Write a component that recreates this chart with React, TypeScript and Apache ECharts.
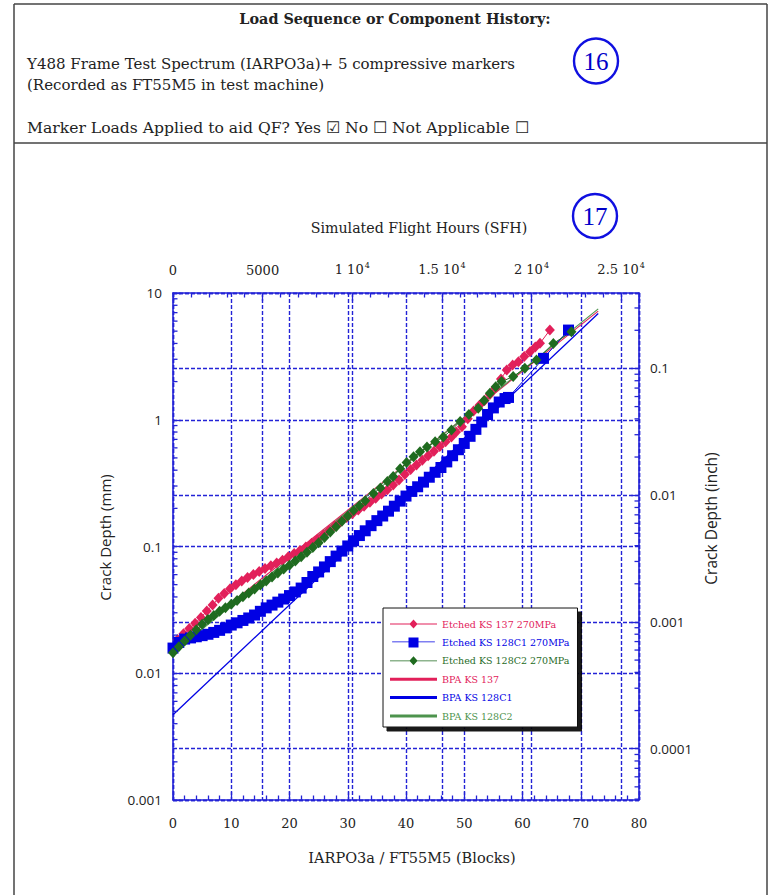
import React, { useEffect, useRef } from 'react';
import * as echarts from 'echarts';

// ---- crack growth data: [blocks of IARPO3a / FT55M5, crack depth (mm)] ----
const etchedKS137: [number, number][] = [
  [0.8, 0.0185], [1.8, 0.0205], [2.8, 0.0225], [3.8, 0.0248], [4.8, 0.0275], [5.8, 0.031],
  [6.8, 0.0345], [7.8, 0.039], [8.8, 0.0425], [9.8, 0.0465], [10.8, 0.05], [11.8, 0.0535],
  [12.8, 0.057], [13.8, 0.06], [14.8, 0.0635], [15.8, 0.067], [16.8, 0.0705], [17.8, 0.074],
  [18.8, 0.078], [19.8, 0.083], [20.8, 0.088], [21.8, 0.093], [22.8, 0.099], [23.8, 0.106],
  [24.8, 0.114], [25.8, 0.123], [26.8, 0.134], [27.8, 0.145], [28.8, 0.157], [29.8, 0.169],
  [30.8, 0.181], [31.8, 0.194], [32.8, 0.208], [33.8, 0.223], [34.8, 0.24], [35.8, 0.259],
  [36.8, 0.28], [37.8, 0.305], [38.8, 0.335], [39.8, 0.37], [40.8, 0.405], [41.8, 0.44],
  [42.8, 0.48], [43.8, 0.52], [44.8, 0.565], [45.8, 0.615], [46.8, 0.67], [47.8, 0.73],
  [48.6, 0.8], [49.6, 0.88], [50.6, 1.02], [51.6, 1.17], [52.6, 1.3], [53.5, 1.42],
  [54.4, 1.58], [55.3, 1.77], [56.3, 2.1], [57.3, 2.47], [58.3, 2.7], [59.3, 2.87],
  [60.3, 3.15], [61.3, 3.44], [62.2, 3.75], [63.0, 4.01], [64.7, 5.1],
];

const etchedKS128C1: [number, number][] = [
  [0, 0.0158], [1, 0.0175], [2, 0.0186], [3, 0.019], [4, 0.0194], [5, 0.0198], [6, 0.0203],
  [7, 0.021], [8, 0.0218], [9, 0.0228], [10, 0.024], [11, 0.025], [12, 0.0261], [13, 0.0273],
  [14, 0.0288], [15, 0.0308], [16, 0.0328], [17, 0.0345], [18, 0.0364], [19, 0.0385],
  [20, 0.041], [21, 0.0438], [22, 0.047], [23, 0.052], [24, 0.058], [25, 0.063], [26, 0.069],
  [27, 0.076], [28, 0.084], [29, 0.092], [30, 0.101], [31, 0.111], [32, 0.122], [33, 0.133],
  [34, 0.146], [35, 0.16], [36, 0.174], [37, 0.19], [38, 0.208], [39, 0.228], [40, 0.25],
  [41, 0.272], [42, 0.296], [43, 0.322], [44, 0.352], [45, 0.385], [46, 0.42], [47, 0.465],
  [48, 0.52], [49, 0.58], [50, 0.65], [51, 0.74], [52, 0.84], [53, 0.96], [54, 1.1],
  [55, 1.24], [56, 1.38], [57, 1.47], [57.6, 1.5], [63.6, 3.05], [67.9, 5.1],
];

const etchedKS128C2: [number, number][] = [
  [0, 0.0145], [1, 0.0162], [2, 0.018], [3, 0.0199], [4, 0.022], [5, 0.0243], [6, 0.0265],
  [7, 0.0285], [8, 0.0308], [9, 0.0328], [10, 0.035], [11, 0.0375], [12, 0.0402], [13, 0.043],
  [14, 0.0462], [15, 0.0497], [16, 0.0535], [17, 0.0575], [18, 0.0618], [19, 0.0663],
  [20, 0.071], [21, 0.077], [22, 0.083], [23, 0.09], [24, 0.098], [25, 0.107], [26, 0.118],
  [27, 0.13], [28, 0.143], [29, 0.158], [30, 0.174], [31, 0.192], [32, 0.21], [33, 0.23],
  [34.4, 0.262], [35.6, 0.29], [36.8, 0.325], [37.8, 0.356], [39.0, 0.41], [40.1, 0.46],
  [41.3, 0.51], [42.4, 0.56], [43.6, 0.61], [45.0, 0.67], [46.4, 0.73], [47.8, 0.83],
  [49.3, 0.97], [50.8, 1.1], [52.4, 1.23], [53.4, 1.42], [54.4, 1.62], [55.4, 1.82],
  [56.4, 2.0], [58.4, 2.19], [60.4, 2.55], [62.4, 2.96], [65.3, 4.0], [68.4, 4.95],
];

// BPA (back-propagation) fits, straight on the semi-log scale
const bpaKS137: [number, number][] = [[0, 0.0155], [73, 7.2]];
const bpaKS128C1: [number, number][] = [[0, 0.0047], [73, 6.9]];
const bpaKS128C2: [number, number][] = [[0, 0.0145], [73, 7.5]];

const seriesNames = [
  'Etched KS 137 270MPa',
  'Etched KS 128C1 270MPa',
  'Etched KS 128C2 270MPa',
  'BPA KS 137',
  'BPA KS 128C1',
  'BPA KS 128C2',
];

// ---- axes ----
const BLOCKS_MAX = 80;
const SFH_MAX = 26000;
const MM_PER_INCH = 25.4;
const DEPTH_MIN_MM = 0.001;
const DEPTH_MAX_MM = 10;
const depthDecadesMm = [0.001, 0.01, 0.1, 1];
const depthDecadesInch = [0.00001, 0.0001, 0.001, 0.01, 0.1];
const minorMultiples = [2, 3, 4, 5, 6, 7, 8, 9];

const inchMin = DEPTH_MIN_MM / MM_PER_INCH;
const inchMax = DEPTH_MAX_MM / MM_PER_INCH;

const minorMm = depthDecadesMm
  .flatMap((d) => minorMultiples.map((m) => m * d))
  .filter((v) => v > DEPTH_MIN_MM && v < DEPTH_MAX_MM);
const minorInch = depthDecadesInch
  .flatMap((d) => minorMultiples.map((m) => m * d))
  .filter((v) => v > inchMin && v < inchMax);

// ---- styling ----
const RED = '#e2205a';
const BLUE = '#0000e4';
const GREEN = '#1f6b1f';
const BPA_GREEN = '#4d934d';
const AXIS_BLUE = '#2323d6';
const SERIF = '"DejaVu Serif", "Liberation Serif", serif';
const SANS = '"Open Sans", "DejaVu Sans", sans-serif';
const TEXT = '#222';

const DIAMOND_ICON = 'path://M0,4.6h47v0.8h-47z M23.5,0.5L27.6,5L23.5,9.5L19.4,5z';
const SQUARE_ICON = 'path://M0,4.6h47v0.8h-47z M18,0h11v11h-11z';
const BAR_ICON = 'path://M0,3.5h47v3h-47z';

const formatDepth = (v: number) => String(Number(v.toPrecision(2)));

const formatSfh = (v: number) =>
  v < 10000 ? String(v) : `${Number((v / 10000).toPrecision(2))} 10{sup|4}`;

const minorTickItem = (dir: number) => (_params: any, api: any) => {
  const p = api.coord([api.value(0), api.value(1)]);
  return {
    type: 'line',
    silent: true,
    shape: { x1: p[0], y1: p[1], x2: p[0] + dir * 4.5, y2: p[1] },
    style: { stroke: AXIS_BLUE, lineWidth: 1.3 },
  };
};

const gridLine = { show: true, lineStyle: { color: AXIS_BLUE, width: 1.4, type: [4, 2] } };
const axisLine = { show: true, onZero: false, lineStyle: { color: AXIS_BLUE, width: 1.6 } };

export default function App() {
  const ref = useRef<HTMLDivElement>(null);

  useEffect(() => {
    if (!ref.current) return;
    const chart = echarts.init(ref.current, undefined, { renderer: 'svg' });

    const option: any = {
      animation: false,
      backgroundColor: '#ffffff',
      grid: { left: 173, right: 132, top: 293, bottom: 95, containLabel: false },
      graphic: [
        // frame
        { type: 'line', shape: { x1: 14, y1: 4, x2: 767, y2: 4 }, style: { stroke: '#444', lineWidth: 1.5 } },
        { type: 'line', shape: { x1: 14, y1: 4, x2: 14, y2: 895 }, style: { stroke: '#444', lineWidth: 1.5 } },
        { type: 'line', shape: { x1: 767, y1: 4, x2: 767, y2: 895 }, style: { stroke: '#444', lineWidth: 1.5 } },
        { type: 'line', shape: { x1: 14, y1: 143, x2: 767, y2: 143 }, style: { stroke: '#444', lineWidth: 1.5 } },
        {
          type: 'text', x: 395, y: 18,
          style: { text: 'Load Sequence or Component History:', fill: TEXT, fontFamily: SERIF, fontSize: 14.4, fontWeight: 'bold', align: 'center', verticalAlign: 'middle' },
        },
        {
          type: 'text', x: 27, y: 64,
          style: { text: 'Y488 Frame Test Spectrum (IARPO3a)+ 5 compressive markers', fill: TEXT, fontFamily: SERIF, fontSize: 15, align: 'left', verticalAlign: 'middle' },
        },
        {
          type: 'text', x: 27, y: 85,
          style: { text: '(Recorded as FT55M5 in test machine)', fill: TEXT, fontFamily: SERIF, fontSize: 15, align: 'left', verticalAlign: 'middle' },
        },
        {
          type: 'text', x: 27, y: 128,
          style: { text: 'Marker Loads Applied to aid QF? Yes \u2611 No \u2610 Not Applicable \u2610', fill: TEXT, fontFamily: SERIF, fontSize: 15.6, align: 'left', verticalAlign: 'middle' },
        },
        { type: 'ellipse', shape: { cx: 596, cy: 61, rx: 22, ry: 22.5 }, style: { fill: 'none', stroke: '#1010e0', lineWidth: 2.4 } },
        {
          type: 'text', x: 596, y: 61,
          style: { text: '16', fill: '#0000c8', fontFamily: '"Liberation Serif", serif', fontSize: 25, align: 'center', verticalAlign: 'middle' },
        },
        { type: 'ellipse', shape: { cx: 595, cy: 216, rx: 22, ry: 22 }, style: { fill: 'none', stroke: '#1010e0', lineWidth: 2.4 } },
        {
          type: 'text', x: 595, y: 216,
          style: { text: '17', fill: '#0000c8', fontFamily: '"Liberation Serif", serif', fontSize: 25, align: 'center', verticalAlign: 'middle' },
        },
      ],
      legend: {
        orient: 'vertical',
        left: 383,
        top: 608,
        padding: [11, 8, 6, 7],
        itemWidth: 47,
        itemHeight: 10,
        itemGap: 8.4,
        backgroundColor: '#ffffff',
        borderColor: '#111',
        borderWidth: 1,
        shadowColor: 'rgba(0,0,0,0.9)',
        shadowBlur: 1,
        shadowOffsetX: 4,
        shadowOffsetY: 4,
        selectedMode: false,
        itemStyle: { borderWidth: 0 },
        textStyle: { fontFamily: SERIF, fontSize: 9.5, lineHeight: 10 },
        data: [
          { name: seriesNames[0], icon: DIAMOND_ICON, textStyle: { color: RED } },
          { name: seriesNames[1], icon: SQUARE_ICON, textStyle: { color: BLUE } },
          { name: seriesNames[2], icon: DIAMOND_ICON, textStyle: { color: GREEN } },
          { name: seriesNames[3], icon: BAR_ICON, textStyle: { color: RED } },
          { name: seriesNames[4], icon: BAR_ICON, textStyle: { color: BLUE } },
          { name: seriesNames[5], icon: BAR_ICON, textStyle: { color: BPA_GREEN } },
        ],
      },
      xAxis: [
        {
          type: 'value',
          position: 'bottom',
          min: 0,
          max: BLOCKS_MAX,
          interval: 10,
          name: 'IARPO3a / FT55M5 (Blocks)',
          nameLocation: 'middle',
          nameGap: 50,
          nameTextStyle: { fontFamily: SERIF, fontSize: 14.5, color: TEXT, padding: [0, 0, 0, 12] },
          axisLine,
          axisTick: { show: true, inside: true, length: 8, lineStyle: { color: AXIS_BLUE, width: 1.3 } },
          minorTick: { show: true, splitNumber: 5, length: 4.5, lineStyle: { color: AXIS_BLUE, width: 1.3 } },
          axisLabel: { margin: 17, fontFamily: SERIF, fontSize: 13, color: TEXT },
          splitLine: gridLine,
        },
        {
          type: 'value',
          position: 'top',
          min: 0,
          max: SFH_MAX,
          interval: 5000,
          name: 'Simulated Flight Hours (SFH)',
          nameLocation: 'middle',
          nameGap: 58,
          nameTextStyle: { fontFamily: SERIF, fontSize: 14.2, color: TEXT, padding: [0, 0, 0, 26] },
          axisLine,
          axisTick: { show: true, inside: true, length: 8, lineStyle: { color: AXIS_BLUE, width: 1.3 } },
          minorTick: { show: true, splitNumber: 5, length: 4.5, lineStyle: { color: AXIS_BLUE, width: 1.3 } },
          axisLabel: {
            margin: 16,
            fontFamily: SERIF,
            fontSize: 13,
            color: TEXT,
            showMaxLabel: false,
            formatter: formatSfh,
            rich: { sup: { fontFamily: SERIF, fontSize: 8, color: TEXT, verticalAlign: 'top', padding: [0, 0, 8, 1] } },
          },
          splitLine: gridLine,
        },
      ],
      yAxis: [
        {
          type: 'log',
          logBase: 10,
          position: 'left',
          min: DEPTH_MIN_MM,
          max: DEPTH_MAX_MM,
          name: 'Crack Depth (mm)',
          nameLocation: 'middle',
          nameGap: 61,
          nameTextStyle: { fontFamily: SANS, fontSize: 15, color: TEXT, padding: [0, 0, 0, 18] },
          axisLine,
          axisTick: { show: true, inside: true, length: 8, lineStyle: { color: AXIS_BLUE, width: 1.3 } },
          axisLabel: { margin: 11, fontFamily: SANS, fontSize: 13.5, color: TEXT, formatter: formatDepth },
          splitLine: gridLine,
        },
        {
          type: 'log',
          logBase: 10,
          position: 'right',
          min: inchMin,
          max: inchMax,
          name: 'Crack Depth (inch)',
          nameLocation: 'middle',
          nameGap: 63,
          nameTextStyle: { fontFamily: SANS, fontSize: 15.5, color: TEXT, padding: [0, 0, 0, 56] },
          axisLine,
          axisTick: { show: true, inside: true, length: 8, lineStyle: { color: AXIS_BLUE, width: 1.3 } },
          axisLabel: {
            margin: 11, fontFamily: SANS, fontSize: 13.5, color: TEXT,
            showMinLabel: false, showMaxLabel: false, formatter: formatDepth,
          },
          splitLine: gridLine,
        },
      ],
      series: [
        {
          name: seriesNames[3], type: 'line', data: bpaKS137, xAxisIndex: 0, yAxisIndex: 0,
          showSymbol: false, symbol: 'none', color: RED, lineStyle: { width: 1.1, color: RED }, z: 2,
        },
        {
          name: seriesNames[5], type: 'line', data: bpaKS128C2, xAxisIndex: 0, yAxisIndex: 0,
          showSymbol: false, symbol: 'none', color: BPA_GREEN, lineStyle: { width: 1.1, color: BPA_GREEN }, z: 2,
        },
        {
          name: seriesNames[0], type: 'line', data: etchedKS137, xAxisIndex: 0, yAxisIndex: 0,
          symbol: 'diamond', symbolSize: [10, 11], color: RED,
          itemStyle: { color: RED, borderWidth: 0 }, lineStyle: { width: 1, color: RED }, z: 3,
        },
        {
          name: seriesNames[1], type: 'line', data: etchedKS128C1, xAxisIndex: 0, yAxisIndex: 0,
          symbol: 'rect', symbolSize: 11, color: BLUE,
          itemStyle: { color: BLUE, borderWidth: 0 }, lineStyle: { width: 1, color: BLUE }, z: 3,
        },
        {
          name: seriesNames[2], type: 'line', data: etchedKS128C2, xAxisIndex: 0, yAxisIndex: 0,
          symbol: 'diamond', symbolSize: [10, 11], color: GREEN,
          itemStyle: { color: GREEN, borderWidth: 0 }, lineStyle: { width: 1, color: GREEN }, z: 3,
        },
        {
          name: seriesNames[4], type: 'line', data: bpaKS128C1, xAxisIndex: 0, yAxisIndex: 0,
          showSymbol: false, symbol: 'none', color: BLUE, lineStyle: { width: 1.3, color: BLUE }, z: 4,
        },
        {
          name: 'mm minor ticks', type: 'custom', xAxisIndex: 0, yAxisIndex: 0,
          data: minorMm.map((v) => [0, v]),
          renderItem: minorTickItem(1), clip: false, silent: true, z: 6,
        },
        {
          name: 'inch minor ticks', type: 'custom', xAxisIndex: 0, yAxisIndex: 1,
          data: minorInch.map((v) => [BLOCKS_MAX, v]),
          renderItem: minorTickItem(-1), clip: false, silent: true, z: 6,
        },
      ],
    };

    chart.setOption(option);
    return () => chart.dispose();
  }, []);

  return (
    <div
      ref={ref}
      style={{ position: 'fixed', left: 0, top: 0, width: 771, height: 895, background: '#fff' }}
    />
  );
}
